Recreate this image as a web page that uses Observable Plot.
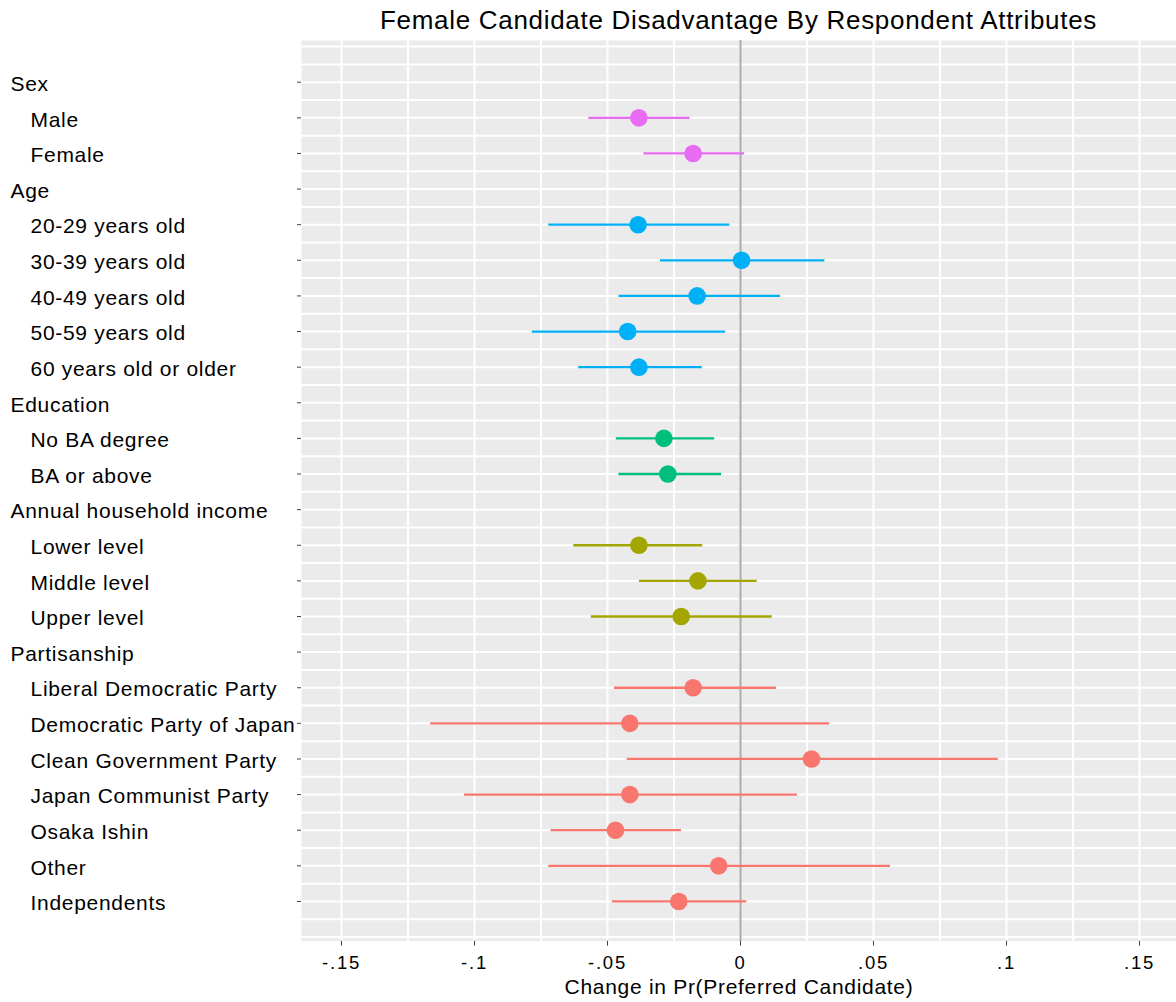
<!DOCTYPE html>
<html><head><meta charset="utf-8">
<script src="https://cdn.jsdelivr.net/npm/d3@7"></script>
<script src="https://cdn.jsdelivr.net/npm/@observablehq/plot@0.6"></script>
<style>
body{margin:0;background:#fff;}
#title{height:40px;width:875px;margin-left:301px;text-align:center;font-family:"Liberation Sans",Arial,sans-serif;font-size:26px;letter-spacing:0.7px;line-height:40px;color:#000;white-space:nowrap;}
#chart svg text{letter-spacing:0.7px;}
#chart svg g[aria-label="x-axis tick label"] text{letter-spacing:1.8px;}
</style></head><body>
<div id="title">Female Candidate Disadvantage By Respondent Attributes</div>
<div id="chart"></div>
<script>
const rowLabels = ["Sex","Male","Female","Age","20-29 years old","30-39 years old","40-49 years old","50-59 years old","60 years old or older","Education","No BA degree","BA or above","Annual household income","Lower level","Middle level","Upper level","Partisanship","Liberal Democratic Party","Democratic Party of Japan","Clean Government Party","Japan Communist Party","Osaka Ishin","Other","Independents"];
const rowIsHeader = [true,false,false,true,false,false,false,false,false,true,false,false,true,false,false,false,true,false,false,false,false,false,false,false];
const rowGroup = ["Sex","Sex","Sex","Age","Age","Age","Age","Age","Age","Education","Education","Education","Annual household income","Annual household income","Annual household income","Annual household income","Partisanship","Partisanship","Partisanship","Partisanship","Partisanship","Partisanship","Partisanship","Partisanship"];
const estimates = [null,-0.0382,-0.0178,null,-0.0385,0.0004,-0.0163,-0.0424,-0.0382,null,-0.0288,-0.0273,null,-0.0382,-0.0160,-0.0223,null,-0.0178,-0.0416,0.0267,-0.0416,-0.0470,-0.0082,-0.0232];
const ciLow = [null,-0.0570,-0.0363,null,-0.0721,-0.0301,-0.0457,-0.0783,-0.0608,null,-0.0467,-0.0457,null,-0.0627,-0.0380,-0.0561,null,-0.0474,-0.1165,-0.0426,-0.1038,-0.0712,-0.0721,-0.0482];
const ciHigh = [null,-0.0190,0.0015,null,-0.0040,0.0317,0.0150,-0.0056,-0.0144,null,-0.0097,-0.0071,null,-0.0142,0.0063,0.0119,null,0.0135,0.0335,0.0969,0.0214,-0.0222,0.0564,0.0024];
const groups = ["Sex","Age","Education","Annual household income","Partisanship"];
const groupColors = ["#E76BF3","#00B0F6","#00BF7D","#A3A500","#F8766D"];
const xTicks = [-0.15,-0.1,-0.05,0,0.05,0.1,0.15];
const xLabel = "Change in Pr(Preferred Candidate)";

const rows = rowLabels.map((label,i)=>({i, label, header: rowIsHeader[i], group: rowGroup[i], est: estimates[i], lo: ciLow[i], hi: ciHigh[i]}));
const dataRows = rows.filter(d=>d.est!=null);
const gridX = d3.range(-6,7).map(k=>k*0.025);
const gridY = d3.range(-2,49).map(k=>k/2);
const fmt = d => d===0 ? "0" : (d<0?"-":"") + String(Math.abs(d)).replace(/^0/,"");

const chart = Plot.plot({
  width:1176, height:962,
  marginLeft:301, marginRight:0, marginTop:0, marginBottom:61.3,
  x:{domain:[-0.16504,0.16391]},
  y:{domain:[-1.171,24.116], reverse:true},
  color:{domain:groups, range:groupColors},
  style:{fontFamily:"'Liberation Sans', Arial, sans-serif", background:"white", color:"black"},
  marks:[
    Plot.frame({fill:"#ebebeb", stroke:null}),
    Plot.ruleX(gridX,{stroke:"white", strokeWidth:2}),
    Plot.ruleY(gridY,{stroke:"white", strokeWidth:2}),
    Plot.ruleX([0],{stroke:"#a9a9a9", strokeWidth:2}),
    Plot.ruleY(dataRows,{y:"i", x1:"lo", x2:"hi", stroke:"group", strokeWidth:2.3}),
    Plot.dot(dataRows,{x:"est", y:"i", r:8.8, fill:"group", stroke:null}),
    Plot.axisX({ticks:xTicks, tickFormat:fmt, tickSize:5, tickPadding:9.5, fontSize:18.5, stroke:"#444", fill:"black", label:null}),
    Plot.axisY({ticks:rows.map(d=>d.i), tickFormat:()=>"", tickSize:4, stroke:"#444", label:null}),
    Plot.text(rows.filter(d=>d.header),{y:"i", text:"label", frameAnchor:"left", textAnchor:"start", dx:-291, dy:2, fontSize:21, fill:"black"}),
    Plot.text(rows.filter(d=>!d.header),{y:"i", text:"label", frameAnchor:"left", textAnchor:"start", dx:-271, dy:2, fontSize:21, fill:"black"}),
    Plot.text([xLabel],{text:d=>d, frameAnchor:"bottom", dy:52.5, fontSize:21, fill:"black"})
  ]
});
document.getElementById("chart").appendChild(chart);
</script>
</body></html>
